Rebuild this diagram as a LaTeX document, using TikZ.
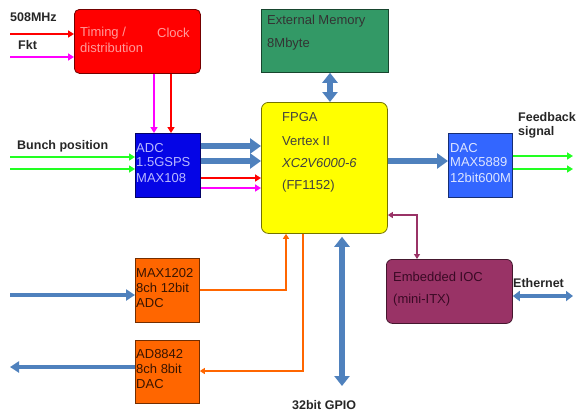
\documentclass[tikz,border=0pt]{standalone}
\usepackage{fontspec}
\setmainfont{Liberation Sans}
\usetikzlibrary{arrows.meta}
\definecolor{timred}{HTML}{FF0000}
\definecolor{timtxt}{HTML}{FF9A9A}
\definecolor{adcblue}{HTML}{0505E6}
\definecolor{adctxt}{HTML}{B8B8FF}
\definecolor{dacblue}{HTML}{3366FF}
\definecolor{dactxt}{HTML}{DDE5FF}
\definecolor{fpgayel}{HTML}{FFFF00}
\definecolor{memgreen}{HTML}{339966}
\definecolor{iocmar}{HTML}{993366}
\definecolor{ioctxt}{HTML}{3A0A25}
\definecolor{orng}{HTML}{FF6600}
\definecolor{orngtxt}{HTML}{3A1500}
\definecolor{lgreen}{HTML}{22FF22}
\definecolor{magc}{HTML}{FF00FF}
\definecolor{fatblue}{HTML}{4F81BD}
\begin{document}
\begin{tikzpicture}[x=1pt,y=-1pt,
  box/.style={draw=#1!45!black, fill=#1, line width=0.8pt, anchor=north west, inner sep=0pt},
  txt/.style={anchor=west, inner sep=0pt, font=\fontsize{13}{15}\selectfont},
  lbl/.style={anchor=west, inner sep=0pt, font=\bfseries\fontsize{12.5}{14}\selectfont, text=black!85},
  thinar/.style={line width=2.4pt, -{Triangle[length=6pt,width=7pt]}},
  fat/.style={line width=6pt, draw=fatblue, -{Triangle[length=11pt,width=15pt]}},
  fatboth/.style={line width=6.5pt, draw=fatblue, {Triangle[length=10pt,width=15pt]}-{Triangle[length=10pt,width=15pt]}},
  midar/.style={line width=4.5pt, draw=fatblue, -{Triangle[length=9pt,width=11pt]}},
  midboth/.style={line width=4pt, draw=fatblue, {Triangle[length=7pt,width=10pt]}-{Triangle[length=7pt,width=10pt]}}
]
\useasboundingbox (0,0) rectangle (578,413);

% boxes
\node[box=timred, minimum width=126pt, minimum height=64pt, rounded corners=5pt] (timing) at (74,9) {};
\node[box=memgreen, minimum width=127pt, minimum height=63pt] (mem) at (261,9) {};
\node[box=adcblue, minimum width=65pt, minimum height=64pt] (adc) at (135,133) {};
\node[box=fpgayel, minimum width=126pt, minimum height=131pt, rounded corners=7pt] (fpga) at (261,102) {};
\node[box=dacblue, minimum width=64pt, minimum height=64pt] (dac) at (448,133) {};
\node[box=iocmar, minimum width=126pt, minimum height=64pt, rounded corners=6pt] (ioc) at (386,259) {};
\node[box=orng, minimum width=64pt, minimum height=64pt] (maxadc) at (135,258) {};
\node[box=orng, minimum width=64pt, minimum height=63pt] (addac) at (135,340) {};

% box texts
\node[txt, text=timtxt] (t1) at (80,33) {Timing /};
\node[txt, text=timtxt] (t2) at (80,48) {distribution};
\node[txt, text=timtxt] (t3) at (157,33) {Clock};
\node[txt, text=black!80] (m1) at (267,21) {External Memory};
\node[txt, text=black!80] (m2) at (267,44) {8Mbyte};
\node[txt, text=adctxt] (a1) at (136,148) {ADC};
\node[txt, text=adctxt] (a2) at (136,162) {1.5GSPS};
\node[txt, text=adctxt] (a3) at (136,178) {MAX108};
\node[txt, text=black!75] (f1) at (282,117) {FPGA};
\node[txt, text=black!75] (f2) at (282,141) {Vertex II};
\node[txt, text=black!75, font=\itshape\fontsize{13}{15}\selectfont] (f3) at (282,163) {XC2V6000-6};
\node[txt, text=black!75] (f4) at (282,186) {(FF1152)};
\node[txt, text=dactxt] (d1) at (450,148) {DAC};
\node[txt, text=dactxt] (d2) at (450,162) {MAX5889};
\node[txt, text=dactxt] (d3) at (450,178) {12bit600M};
\node[txt, text=ioctxt] (i1) at (393,277) {Embedded IOC};
\node[txt, text=ioctxt] (i2) at (393,300) {(mini-ITX)};
\node[txt, text=orngtxt] (o1) at (136,273) {MAX1202};
\node[txt, text=orngtxt] (o2) at (136,288) {8ch 12bit};
\node[txt, text=orngtxt] (o3) at (136,303) {ADC};
\node[txt, text=orngtxt] (p1) at (136,354) {AD8842};
\node[txt, text=orngtxt] (p2) at (136,369) {8ch 8bit};
\node[txt, text=orngtxt] (p3) at (136,384) {DAC};

% outside labels
\node[lbl] (l508) at (10,17) {508MHz};
\node[lbl] (lfkt) at (18,45) {Fkt};
\node[lbl] (lbunch) at (17,146) {Bunch position};
\node[lbl, align=left] (lfb) at (518,125) {Feedback\\signal};
\node[lbl] (leth) at (513,283) {Ethernet};
\node[lbl] (lgpio) at (292,405) {32bit GPIO};

% free ends
\coordinate (in508) at (10,34);
\coordinate (infkt) at (10,57);
\coordinate (bp1) at (10,157);
\coordinate (bp2) at (10,169);
\coordinate (fb1) at (573,156);
\coordinate (fb2) at (573,169);
\coordinate (ethend) at (573,296);
\coordinate (gpioend) at (342,386);
\coordinate (ain) at (10,295);
\coordinate (aout) at (10,367);

% clock inputs
\draw[thinar, timred] (in508) -- (timing.west |- in508);
\draw[thinar, magc] (infkt) -- (timing.west |- infkt);
% timing to ADC
\draw[thinar, magc] ([xshift=80pt]timing.south west) -- ([xshift=19pt]adc.north west);
\draw[thinar, timred] ([xshift=97pt]timing.south west) -- ([xshift=36pt]adc.north west);
% bunch position
\draw[thinar, lgreen] (bp1) -- (adc.west |- bp1);
\draw[thinar, lgreen] (bp2) -- (adc.west |- bp2);
% ADC to FPGA
\draw[fat] ([yshift=-13pt]adc.north east) -- ([yshift=-13pt]adc.north east -| fpga.west);
\draw[fat] ([yshift=-28pt]adc.north east) -- ([yshift=-28pt]adc.north east -| fpga.west);
\draw[thinar, timred] ([yshift=-45pt]adc.north east) -- ([yshift=-45pt]adc.north east -| fpga.west);
\draw[thinar, magc] ([yshift=-55pt]adc.north east) -- ([yshift=-55pt]adc.north east -| fpga.west);
% memory
\draw[fatboth] ([xshift=69pt]mem.south west) -- ([xshift=69pt]fpga.north west);
% FPGA to DAC
\draw[fat] ([yshift=-28pt]dac.north west -| fpga.east) -- ([yshift=-28pt]dac.north west);
% feedback
\draw[thinar, lgreen] (dac.east |- fb1) -- (fb1);
\draw[thinar, lgreen] (dac.east |- fb2) -- (fb2);
% IOC
\draw[line width=2pt, iocmar, {Triangle[length=5pt,width=6pt]}-{Triangle[length=5pt,width=6pt]}] ([yshift=-113pt]fpga.north east) -| ([xshift=31pt]ioc.north west);
\draw[midboth] (ioc.east |- ethend) -- (ethend);
% GPIO
\draw[fatboth] ([xshift=81pt,yshift=-3pt]fpga.south west) -- (gpioend);
% slow ADC/DAC
\draw[midar] (ain) -- (maxadc.west |- ain);
\draw[midar] (addac.west |- aout) -- (aout);
\draw[line width=2pt, orng, -{Triangle[length=5pt,width=6pt]}] ([yshift=-32pt]maxadc.north east) -| ([xshift=25pt]fpga.south west);
\draw[line width=2pt, orng, -{Triangle[length=5pt,width=6pt]}] ([xshift=42pt]fpga.south west) |- ([yshift=-31pt]addac.north east);
\end{tikzpicture}
\end{document}
